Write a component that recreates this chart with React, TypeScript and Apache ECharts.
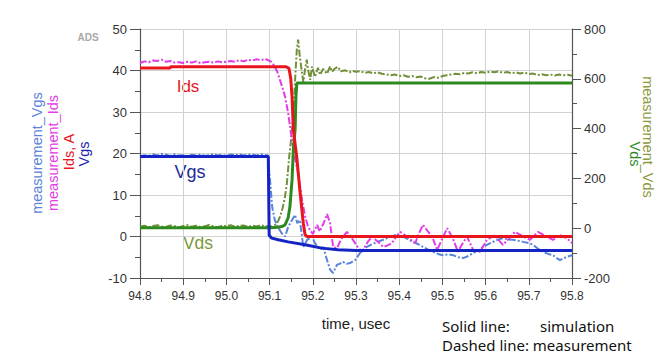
import React, { useEffect, useRef } from "react";
import * as echarts from "echarts";

// time axis ticks (usec)
const xTicks = { min: 94.8, max: 95.8, interval: 0.1 };

// Simulation (solid)
const simIds: number[][] = [
  [94.8, 40.6], [94.87, 40.6], [94.871, 40.9], [95.138, 40.9], [95.145, 40.5], [95.149, 38],
  [95.152, 33.6], [95.155, 25.7], [95.163, 19], [95.17, 11.2], [95.178, 3.2], [95.182, 0.5],
  [95.186, 0], [95.8, 0],
];
const simVgs: number[][] = [
  [94.8, 19.3], [95.097, 19.3], [95.099, 0.3], [95.105, -0.4], [95.12, -0.8], [95.143, -1.3],
  [95.182, -2.0], [95.221, -2.8], [95.258, -3.2], [95.3, -3.4], [95.8, -3.4],
];
const simVds: number[][] = [
  [94.8, 2], [95.1, 2], [95.12, 4], [95.13, 8], [95.136, 14], [95.143, 42], [95.147, 86],
  [95.152, 195], [95.155, 315], [95.159, 395], [95.161, 528], [95.163, 583], [95.8, 583],
];

// Measurement (dashed)
const measIds: number[][] = [
  [94.8, 41.8], [94.81, 42.2], [94.82, 42.0], [94.83, 42.4], [94.84, 42.3], [94.85, 42.6],
  [94.86, 42.1], [94.87, 42.3], [94.88, 41.9], [94.89, 42.0], [94.9, 41.8], [94.91, 42.1],
  [94.92, 41.9], [94.93, 42.2], [94.94, 41.8], [94.95, 42.0], [94.96, 42.1], [94.97, 41.9],
  [94.98, 42.2], [94.99, 42.0], [95.0, 42.1], [95.01, 42.3], [95.02, 42.1], [95.03, 42.5],
  [95.04, 42.2], [95.05, 42.6], [95.06, 42.4], [95.07, 42.7], [95.08, 42.5], [95.09, 42.8],
  [95.1, 42.3], [95.105, 42.0], [95.112, 41], [95.118, 39.6], [95.124, 37.7], [95.13, 35.8],
  [95.136, 33.6], [95.143, 29.7], [95.152, 23], [95.159, 18.8], [95.166, 15.3], [95.175, 8.8],
  [95.182, 5], [95.189, 2.3], [95.2, 0.6], [95.21, 2.8], [95.216, 1.2], [95.225, 3.2],
  [95.233, 5.4], [95.24, 3.2], [95.247, -2.5], [95.256, -2.8], [95.266, -0.6], [95.279, 1.1],
  [95.288, 0], [95.298, -1.6], [95.306, -2.8], [95.314, -3.7], [95.326, -1.5], [95.337, 0],
  [95.35, -1.2], [95.363, -2.5], [95.372, -2.2], [95.383, -1.6], [95.392, -0.2], [95.402, 1.1],
  [95.41, 0.6], [95.418, 0], [95.427, -0.8], [95.437, -1.6], [95.446, 0.8], [95.455, 2.8],
  [95.466, 1.3], [95.476, 0], [95.488, -3.2], [95.5, -0.5], [95.511, 2], [95.524, -0.4],
  [95.536, -3.7], [95.546, -1.8], [95.557, 0], [95.571, -3.2], [95.587, -3.7], [95.603, -0.8],
  [95.622, 0.3], [95.63, -0.8], [95.64, -2], [95.655, -0.4], [95.668, 1.1], [95.687, 0],
  [95.703, -0.8], [95.721, 1.1], [95.742, 0], [95.756, -0.8], [95.772, 0.3], [95.788, -0.4],
  [95.8, -1.6],
];
const measVgs: number[][] = [
  [94.8, 19.3], [94.81, 19.6], [94.82, 19.4], [94.83, 19.8], [94.84, 19.5], [94.85, 19.9],
  [94.86, 19.7], [94.87, 19.4], [94.88, 19.8], [94.89, 19.5], [94.9, 19.6], [94.91, 19.3],
  [94.92, 19.7], [94.93, 19.5], [94.94, 19.8], [94.95, 19.4], [94.96, 19.6], [94.97, 19.9],
  [94.98, 19.5], [94.99, 19.7], [95.0, 19.4], [95.01, 19.8], [95.02, 19.6], [95.03, 19.9],
  [95.04, 19.5], [95.05, 19.7], [95.06, 19.8], [95.07, 19.5], [95.08, 19.9], [95.09, 19.6],
  [95.096, 19.6], [95.101, 13.6], [95.106, 7.1], [95.112, 4], [95.119, 2.3], [95.128, 0.8],
  [95.136, 0], [95.143, 2.3], [95.152, 4], [95.159, 5.2], [95.164, 3.2], [95.17, 4],
  [95.175, 0], [95.178, -2.5], [95.187, -0.8], [95.198, 0], [95.205, -1.6], [95.217, -3.2],
  [95.224, -2.5], [95.233, -5.7], [95.24, -8], [95.247, -8.8], [95.256, -6.8], [95.262, -6.6],
  [95.27, -6.1], [95.278, -6.6], [95.286, -6.4], [95.298, -5.7], [95.309, -4], [95.317, -3.2],
  [95.325, -2.5], [95.337, -1.9], [95.349, -1.3], [95.36, -0.9], [95.372, -0.4], [95.38, -0.1],
  [95.39, 0.3], [95.4, -0.1], [95.409, 0], [95.42, -0.6], [95.432, -1.3], [95.443, -1.8],
  [95.455, -2.5], [95.466, -3.1], [95.478, -3.7], [95.49, -4.2], [95.501, -4.5], [95.513, -4.3],
  [95.525, -4.5], [95.537, -5.0], [95.548, -5.2], [95.56, -4.7], [95.571, -4], [95.583, -3.3],
  [95.594, -2.5], [95.605, -1.9], [95.617, -1.3], [95.628, -0.8], [95.64, -0.4], [95.652, -0.7],
  [95.663, -0.8], [95.675, -1.0], [95.687, -1.3], [95.7, -1.6], [95.71, -2], [95.722, -3.0],
  [95.733, -3.7], [95.745, -4.2], [95.756, -4.5], [95.765, -5.2], [95.772, -5.7], [95.78, -5.3],
  [95.788, -4.9], [95.8, -4.5],
];
const measVds: number[][] = [
  [94.8, 6], [94.81, 10], [94.82, 4], [94.83, 9], [94.84, 12], [94.85, 7], [94.86, 5],
  [94.87, 11], [94.88, 8], [94.89, 3], [94.9, 9], [94.91, 12], [94.92, 6], [94.93, 10],
  [94.94, 5], [94.95, 8], [94.96, 13], [94.97, 7], [94.98, 4], [94.99, 10], [95.0, 8],
  [95.01, 12], [95.02, 6], [95.03, 9], [95.04, 11], [95.05, 5], [95.06, 10], [95.07, 7],
  [95.08, 12], [95.09, 8], [95.1, 9], [95.105, 6], [95.115, 15], [95.12, 30], [95.125, 50],
  [95.13, 80], [95.135, 120], [95.14, 180], [95.145, 280], [95.15, 360], [95.155, 460],
  [95.159, 596], [95.163, 717], [95.166, 757], [95.17, 689], [95.175, 624], [95.178, 588],
  [95.182, 636], [95.186, 677], [95.189, 636], [95.194, 596], [95.198, 649], [95.205, 608],
  [95.212, 644], [95.217, 616], [95.224, 640], [95.233, 620], [95.24, 650], [95.245, 628],
  [95.25, 640], [95.258, 648], [95.265, 630], [95.275, 634], [95.285, 626], [95.29, 632],
  [95.3, 628], [95.31, 631], [95.32, 624], [95.33, 627], [95.34, 622], [95.35, 626],
  [95.36, 620], [95.37, 618], [95.38, 614], [95.39, 617], [95.4, 611], [95.41, 614],
  [95.42, 608], [95.43, 611], [95.44, 606], [95.45, 609], [95.46, 602], [95.47, 600],
  [95.48, 607], [95.49, 604], [95.5, 611], [95.51, 614], [95.52, 617], [95.53, 620],
  [95.54, 618], [95.55, 623], [95.56, 621], [95.57, 626], [95.58, 622], [95.59, 627],
  [95.6, 624], [95.61, 629], [95.62, 626], [95.63, 630], [95.64, 624], [95.65, 627],
  [95.66, 622], [95.67, 626], [95.68, 621], [95.69, 625], [95.7, 619], [95.71, 621],
  [95.72, 615], [95.73, 618], [95.74, 614], [95.75, 617], [95.76, 613], [95.77, 617],
  [95.78, 614], [95.79, 616], [95.8, 612],
];

const C = {
  red: "#e8161c",
  magenta: "#e23ce6",
  blue: "#1423c4",
  lightBlue: "#5a84dc",
  green: "#2e8a1e",
  olive: "#72903a",
};

export default function App() {
  const ref = useRef<HTMLDivElement>(null);
  useEffect(() => {
    if (!ref.current) return;
    const chart = echarts.init(ref.current, undefined, { renderer: "svg" });
    const axisFont = "Liberation Sans";
    const dash = [7, 2, 2, 2];
    const line = (name: string, data: number[][], color: string, yIdx: number, dashed: boolean) => ({
      name,
      type: "line",
      yAxisIndex: yIdx,
      data,
      showSymbol: false,
      symbol: "none",
      silent: true,
      lineStyle: { color, width: dashed ? 2 : 3, type: dashed ? dash : "solid" },
      z: dashed ? 2 : 3,
    });
    const vText = (text: string, x: number, y: number, fill: string, rot: number, size = 14.5) => ({
      type: "text",
      x,
      y,
      rotation: rot,
      style: {
        text,
        fill,
        font: `${size}px "Liberation Sans"`,
        align: "center",
        verticalAlign: "middle",
        textAlign: "center",
        textVerticalAlign: "middle",
      },
    });
    const hText = (text: string, x: number, y: number, fill: string, font: string, align = "center") => ({
      type: "text",
      x,
      y,
      style: {
        text,
        fill,
        font,
        align,
        verticalAlign: "middle",
        textAlign: align,
        textVerticalAlign: "middle",
      },
    });
    chart.setOption({
      animation: false,
      grid: { left: 140, right: 93, top: 29, bottom: 85 },
      xAxis: {
        type: "value",
        min: xTicks.min,
        max: xTicks.max,
        interval: xTicks.interval,
        name: "time, usec",
        nameLocation: "middle",
        nameGap: 38,
        nameTextStyle: { fontFamily: axisFont, fontSize: 15, color: "#222" },
        axisLine: { show: true, onZero: false, lineStyle: { color: "#555", width: 1.2 } },
        axisTick: { show: true, length: 7, lineStyle: { color: "#555" } },
        minorTick: { show: true, splitNumber: 2, length: 4, lineStyle: { color: "#555" } },
        splitLine: { show: true, lineStyle: { color: "#d2d2d2", width: 1 } },
        axisLabel: {
          fontFamily: axisFont,
          fontSize: 12,
          color: "#333",
          margin: 12,
          formatter: (v: number) => v.toFixed(1),
        },
      },
      yAxis: [
        {
          type: "value",
          min: -10,
          max: 50,
          interval: 10,
          position: "left",
          axisLine: { show: true, onZero: false, lineStyle: { color: "#555", width: 1.2 } },
          axisTick: { show: true, length: 10, lineStyle: { color: "#555" } },
          minorTick: { show: true, splitNumber: 2, length: 5, lineStyle: { color: "#555" } },
          splitLine: { show: true, lineStyle: { color: "#d2d2d2", width: 1 } },
          axisLabel: { fontFamily: axisFont, fontSize: 13, color: "#333", margin: 13 },
        },
        {
          type: "value",
          min: -200,
          max: 800,
          interval: 200,
          position: "right",
          axisLine: { show: true, onZero: false, lineStyle: { color: "#555", width: 1.2 } },
          axisTick: { show: true, length: 9, lineStyle: { color: "#555" } },
          minorTick: { show: true, splitNumber: 2, length: 5, lineStyle: { color: "#555" } },
          splitLine: { show: false },
          axisLabel: { fontFamily: axisFont, fontSize: 13, color: "#333", margin: 12 },
        },
      ],
      series: [
        line("measurement_Vds", measVds, C.olive, 1, true),
        line("measurement_Vgs", measVgs, C.lightBlue, 0, true),
        line("measurement_Ids", measIds, C.magenta, 0, true),
        line("Vds", simVds, C.green, 1, false),
        line("Vgs", simVgs, C.blue, 0, false),
        line("Ids, A", simIds, C.red, 0, false),
      ],
      graphic: [
        vText("measurement_Vgs", 37, 153, C.lightBlue, Math.PI / 2),
        vText("measurement_Ids", 53, 153, C.magenta, Math.PI / 2),
        vText("Ids, A", 69, 152, C.red, Math.PI / 2),
        vText("Vgs", 84, 154, "#1c22a8", Math.PI / 2),
        vText("measurement_Vds", 648, 137, "#8a9a3e", -Math.PI / 2),
        vText("Vds", 635, 154, C.green, -Math.PI / 2),
        hText("ADS", 88, 37, "#a8a8a8", 'bold 10px "Liberation Sans"'),
        hText("Ids", 188, 86, C.red, '17px "Liberation Sans"'),
        hText("Vgs", 190, 172, "#1c2a98", '18px "Liberation Sans"'),
        hText("Vds", 198, 243, "#7a9a3a", '17.5px "Liberation Sans"'),
        hText("Solid line:", 442, 326, "#111", '15px "Noto Sans"', "left"),
        hText("simulation", 540, 326, "#111", '15px "Noto Sans"', "left"),
        hText("Dashed line: measurement", 442, 345, "#111", '15px "Noto Sans"', "left"),
      ],
    });
    return () => chart.dispose();
  }, []);
  return (
    <div
      ref={ref}
      style={{ position: "absolute", left: 0, top: 0, width: 665, height: 363, background: "#fff" }}
    />
  );
}
